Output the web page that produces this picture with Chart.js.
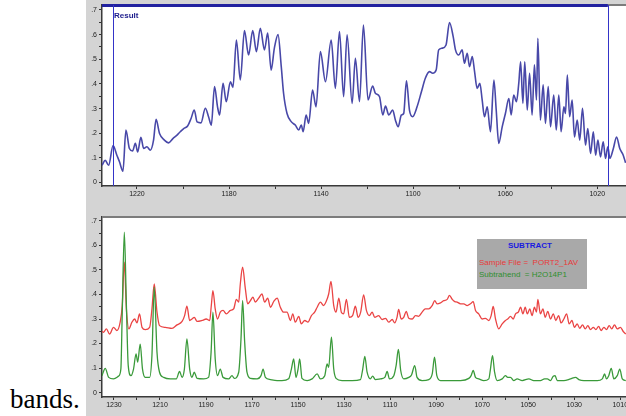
<!DOCTYPE html>
<html>
<head>
<meta charset="utf-8">
<script src="https://cdn.jsdelivr.net/npm/chart.js@4.4.1/dist/chart.umd.min.js"></script>
<style>
html,body{margin:0;padding:0;background:#fff;width:626px;height:416px;overflow:hidden;}
#bg{position:absolute;left:86px;top:0;width:540px;height:416px;background:#d4d4d4;}
#w1{position:absolute;left:86px;top:0;width:540px;height:200px;}
#w2{position:absolute;left:86px;top:210px;width:540px;height:206px;}
.bands{position:absolute;left:10px;top:386px;font-family:"Liberation Serif","Times New Roman",serif;font-size:27px;line-height:27px;color:#000;}
.result{position:absolute;left:114px;top:11px;font-family:"Liberation Sans",Arial,sans-serif;font-size:8px;font-weight:bold;color:#1c1c8c;line-height:10px;}
.legend{position:absolute;left:477px;top:239px;width:110px;height:50px;background:#a9a9a9;font-family:"Liberation Sans",Arial,sans-serif;font-size:8px;line-height:10px;}
.legend .t{position:absolute;left:0;width:106px;top:2px;text-align:center;color:#1a1ae0;font-weight:bold;}
.legend .s{position:absolute;left:2px;top:19px;color:#e83a3a;white-space:pre;}
.legend .h{position:absolute;left:2px;top:31px;color:#2f8f2f;white-space:pre;}
</style>
</head>
<body>
<div id="bg"></div>
<div id="w1"><canvas id="c1" width="540" height="200"></canvas></div>
<div id="w2"><canvas id="c2" width="540" height="206"></canvas></div>
<div class="result">Result</div>
<div class="legend"><div class="t">SUBTRACT</div><div class="s">Sample File =  PORT2_1AV</div><div class="h">Subtrahend  = H2O14P1</div></div>
<div class="bands">bands.</div>
<script>
// ---------- data (wavenumber, absorbance) ----------
const resultWn = [1235.2,1233.8,1232.3,1230.4,1228.7,1227.6,1226.1,1224.8,1223.3,1221.9,1220.7,1219.7,1218.3,1217.1,1215.7,1214.2,1212.8,1211.7,1210.2,1208.1,1206.3,1204.3,1202.6,1201.2,1199.7,1198.0,1196.5,1195.1,1193.9,1192.2,1190.3,1188.9,1187.7,1186.3,1185.0,1184.1,1182.6,1181.2,1179.4,1178.3,1176.8,1175.1,1173.3,1171.5,1169.7,1168.1,1166.4,1164.6,1163.2,1161.7,1160.3,1158.7,1157.3,1156.3,1154.8,1152.9,1151.2,1149.7,1148.6,1147.8,1146.5,1145.4,1143.7,1142.2,1140.3,1138.1,1135.6,1133.8,1132.0,1130.2,1128.7,1126.5,1125.1,1123.3,1121.6,1119.6,1117.6,1116.4,1114.6,1113.2,1112.0,1110.6,1108.9,1107.7,1106.5,1105.1,1104.1,1102.9,1101.6,1100.2,1098.3,1096.4,1094.7,1092.9,1091.5,1090.0,1088.9,1087.4,1085.7,1084.2,1082.6,1081.6,1080.2,1078.7,1077.7,1076.5,1075.5,1074.3,1073.3,1072.2,1071.0,1070.0,1069.0,1067.8,1066.4,1064.9,1063.9,1062.8,1061.3,1059.9,1058.4,1057.4,1056.3,1055.1,1054.1,1053.3,1052.3,1051.5,1050.4,1049.4,1048.3,1047.3,1046.4,1045.8,1044.7,1043.5,1042.5,1041.3,1040.3,1038.9,1037.8,1036.7,1035.7,1034.5,1033.8,1033.0,1032.0,1030.9,1029.9,1028.7,1027.6,1026.4,1025.1,1024.1,1022.9,1021.7,1020.7,1019.7,1018.6,1017.4,1016.4,1015.4,1014.5,1013.0,1011.6,1010.2,1008.7,1007.7];
const resultAbs = [0.070,0.090,0.070,0.150,0.110,0.084,0.046,0.213,0.138,0.128,0.159,0.124,0.183,0.138,0.145,0.131,0.172,0.256,0.199,0.172,0.161,0.179,0.192,0.206,0.219,0.229,0.260,0.294,0.246,0.242,0.301,0.267,0.233,0.389,0.307,0.274,0.402,0.328,0.409,0.386,0.578,0.416,0.616,0.517,0.616,0.531,0.626,0.538,0.606,0.456,0.545,0.600,0.470,0.362,0.280,0.246,0.233,0.213,0.233,0.206,0.274,0.240,0.375,0.307,0.531,0.409,0.578,0.382,0.612,0.348,0.599,0.321,0.504,0.328,0.639,0.335,0.391,0.362,0.348,0.274,0.310,0.274,0.294,0.253,0.226,0.274,0.280,0.413,0.294,0.267,0.307,0.368,0.423,0.450,0.443,0.456,0.538,0.545,0.558,0.649,0.592,0.538,0.517,0.538,0.484,0.524,0.470,0.511,0.450,0.382,0.402,0.335,0.267,0.307,0.206,0.416,0.294,0.159,0.226,0.280,0.341,0.274,0.355,0.328,0.402,0.490,0.321,0.490,0.294,0.443,0.274,0.477,0.335,0.585,0.253,0.396,0.240,0.389,0.226,0.355,0.213,0.355,0.206,0.307,0.280,0.436,0.267,0.335,0.185,0.253,0.172,0.301,0.152,0.219,0.118,0.206,0.111,0.172,0.104,0.165,0.098,0.145,0.098,0.138,0.185,0.138,0.111,0.080];

const sampleWn = [1235.2,1234.5,1233.3,1231.9,1230.2,1228.7,1227.3,1226.4,1225.5,1224.6,1223.5,1222.2,1221.0,1220.0,1218.9,1217.8,1216.4,1214.5,1213.5,1212.5,1211.3,1210.2,1207.7,1204.8,1202.6,1200.4,1199.3,1198.3,1197.1,1196.1,1195.1,1193.9,1191.7,1189.9,1188.4,1187.7,1187.0,1186.0,1185.0,1183.8,1182.6,1181.2,1179.4,1178.0,1176.8,1175.8,1175.1,1174.1,1172.9,1171.9,1170.7,1169.6,1168.6,1167.1,1165.7,1164.5,1163.2,1162.0,1160.6,1159.1,1157.7,1156.3,1154.8,1153.3,1152.3,1151.2,1149.7,1148.6,1147.1,1145.7,1144.2,1142.8,1141.7,1140.3,1138.9,1137.8,1136.7,1135.7,1134.5,1133.5,1132.3,1131.2,1130.2,1129.0,1127.7,1126.3,1125.1,1123.9,1122.8,1121.5,1120.3,1119.0,1117.8,1116.7,1115.0,1113.5,1112.0,1110.6,1109.1,1108.0,1107.0,1106.3,1105.2,1104.1,1103.0,1101.9,1100.4,1099.0,1097.6,1096.1,1094.7,1093.2,1091.7,1090.6,1089.6,1088.1,1086.7,1085.2,1084.2,1083.0,1081.9,1080.9,1079.4,1078.0,1076.5,1075.1,1073.9,1072.9,1071.5,1070.0,1068.6,1067.1,1066.1,1065.2,1064.2,1062.8,1061.3,1059.9,1058.9,1057.7,1056.5,1055.5,1054.3,1053.3,1052.3,1051.3,1050.4,1049.3,1048.3,1047.3,1046.4,1045.8,1044.7,1043.6,1042.6,1041.5,1040.3,1039.1,1038.0,1036.8,1035.7,1034.5,1033.3,1032.2,1031.0,1029.9,1028.7,1027.6,1026.4,1025.2,1024.1,1022.9,1021.7,1020.6,1019.4,1018.3,1017.1,1016.0,1014.8,1013.7,1012.5,1011.3,1009.9,1008.7,1007.6];
const sampleAbs = [0.250,0.246,0.260,0.239,0.266,0.253,0.287,0.355,0.532,0.341,0.260,0.287,0.300,0.284,0.321,0.266,0.257,0.266,0.341,0.443,0.328,0.273,0.266,0.262,0.276,0.290,0.314,0.352,0.294,0.300,0.307,0.290,0.294,0.300,0.294,0.355,0.416,0.341,0.300,0.328,0.335,0.321,0.335,0.341,0.380,0.369,0.443,0.511,0.423,0.362,0.375,0.389,0.369,0.385,0.402,0.369,0.385,0.348,0.371,0.385,0.348,0.328,0.328,0.294,0.321,0.287,0.311,0.280,0.294,0.287,0.314,0.328,0.348,0.369,0.355,0.371,0.402,0.453,0.355,0.328,0.385,0.328,0.321,0.380,0.307,0.314,0.352,0.307,0.328,0.398,0.335,0.314,0.328,0.307,0.314,0.298,0.303,0.287,0.298,0.284,0.307,0.339,0.300,0.307,0.331,0.303,0.300,0.314,0.311,0.328,0.341,0.341,0.355,0.375,0.362,0.366,0.375,0.380,0.396,0.380,0.371,0.369,0.362,0.362,0.355,0.362,0.371,0.335,0.321,0.300,0.303,0.294,0.314,0.351,0.300,0.260,0.280,0.294,0.300,0.311,0.300,0.321,0.328,0.348,0.321,0.348,0.321,0.341,0.314,0.348,0.328,0.380,0.321,0.341,0.307,0.331,0.300,0.321,0.294,0.314,0.284,0.300,0.321,0.280,0.294,0.266,0.280,0.262,0.276,0.260,0.273,0.257,0.266,0.257,0.270,0.253,0.266,0.257,0.273,0.260,0.276,0.260,0.266,0.249,0.239];

const subWn = [1235.2,1233.8,1232.3,1230.2,1228.0,1227.0,1226.4,1225.5,1224.6,1223.8,1222.6,1221.5,1220.4,1219.7,1218.6,1217.6,1216.4,1214.5,1213.5,1212.5,1211.3,1210.2,1208.4,1205.5,1202.9,1201.5,1200.4,1199.4,1198.3,1197.1,1196.1,1195.1,1193.9,1191.0,1188.9,1187.8,1187.0,1186.0,1185.0,1183.8,1182.6,1180.2,1178.7,1177.7,1175.8,1174.8,1174.1,1173.2,1172.2,1170.7,1167.8,1166.1,1165.2,1164.2,1162.0,1159.1,1157.0,1154.1,1152.9,1151.9,1150.9,1150.0,1149.3,1148.3,1146.1,1143.9,1141.7,1140.3,1138.4,1137.4,1136.7,1135.5,1134.5,1133.5,1130.9,1126.5,1122.9,1121.9,1121.0,1120.0,1118.6,1117.6,1116.4,1114.2,1112.3,1111.3,1110.3,1108.4,1107.4,1106.4,1105.4,1104.1,1101.9,1100.7,1099.3,1098.3,1096.1,1093.2,1091.7,1090.7,1089.7,1088.1,1084.5,1081.6,1079.4,1075.8,1074.8,1073.9,1072.9,1071.5,1069.3,1067.1,1066.4,1065.5,1064.6,1063.5,1061.3,1059.9,1058.9,1057.7,1056.3,1054.8,1052.6,1049.7,1047.6,1044.7,1042.9,1041.7,1040.3,1039.1,1038.3,1037.4,1034.5,1031.6,1029.4,1028.0,1025.8,1022.9,1020.0,1017.8,1016.8,1016.0,1015.0,1013.9,1012.8,1011.3,1010.2,1009.1,1007.6];
const subAbs = [0.069,0.099,0.062,0.056,0.067,0.096,0.328,0.654,0.355,0.110,0.069,0.096,0.158,0.124,0.198,0.096,0.062,0.062,0.151,0.430,0.164,0.083,0.062,0.056,0.056,0.086,0.062,0.096,0.219,0.096,0.062,0.083,0.058,0.056,0.062,0.164,0.328,0.137,0.069,0.096,0.062,0.056,0.069,0.058,0.083,0.219,0.375,0.205,0.083,0.058,0.056,0.069,0.096,0.062,0.053,0.049,0.049,0.056,0.096,0.137,0.062,0.096,0.137,0.058,0.049,0.056,0.076,0.056,0.069,0.117,0.103,0.226,0.096,0.058,0.049,0.049,0.053,0.096,0.148,0.083,0.056,0.067,0.053,0.056,0.062,0.086,0.056,0.069,0.110,0.176,0.090,0.056,0.062,0.072,0.110,0.062,0.049,0.053,0.076,0.144,0.069,0.049,0.049,0.049,0.049,0.058,0.069,0.090,0.062,0.056,0.049,0.056,0.096,0.151,0.083,0.049,0.056,0.069,0.062,0.062,0.049,0.056,0.049,0.056,0.049,0.049,0.056,0.056,0.049,0.067,0.069,0.049,0.049,0.056,0.062,0.053,0.049,0.049,0.049,0.056,0.076,0.056,0.069,0.099,0.056,0.069,0.096,0.056,0.049];

// ---------- axes ----------
const xMin = 1007.5, xMax = 1235.2;
const topXTickValues = [1220,1200,1180,1160,1140,1120,1100,1080,1060,1040,1020];
const topXTickLabels = ['1220','','1180','','1140','','1100','','1060','','1020'];
const botXTickValues = [1230,1220,1210,1200,1190,1180,1170,1160,1150,1140,1130,1120,1110,1100,1090,1080,1070,1060,1050,1040,1030,1020,1010];
const botXTickLabels = ['1230','','1210','','1190','','1170','','1150','','1130','','1110','','1090','','1070','','1050','','1030','','1010'];
const yTickValues = [0,0.05,0.1,0.15,0.2,0.25,0.3,0.35,0.4,0.45,0.5,0.55,0.6,0.65,0.7];
const yTickLabels = ['0','','.1','','.2','','.3','','.4','','.5','','.6','','.7'];
const cursorWn = [1230.3, 1015.4];

const pts = (xs, ys) => xs.map((x, i) => ({x: x, y: ys[i]}));
const tickFont = {family: '"Liberation Sans", Arial, sans-serif', size: 7};

function xScale(vals, labs, h) {
  return {
    type: 'linear', reverse: true, min: xMin, max: xMax, bounds: 'data',
    afterBuildTicks: s => { s.ticks = vals.map(v => ({value: v})); },
    afterFit: s => { s.height = h; s.paddingLeft = 0; s.paddingRight = 0; s.paddingTop = 0; s.paddingBottom = 0; },
    ticks: {autoSkip: false, maxRotation: 0, minRotation: 0, padding: 1, color: '#222', font: tickFont,
            callback: (v, i) => labs[i]},
    grid: {drawOnChartArea: false, drawTicks: true, tickLength: 3, color: '#333', lineWidth: 1},
    border: {display: true, color: '#3a3a3a', width: 1.5}
  };
}
function yScale(min, max) {
  return {
    type: 'linear', min: min, max: max, bounds: 'data',
    afterBuildTicks: s => { s.ticks = yTickValues.map(v => ({value: v})); },
    afterFit: s => { s.width = 16; s.paddingTop = 0; s.paddingBottom = 0; s.paddingLeft = 0; s.paddingRight = 0; },
    ticks: {autoSkip: false, padding: 2, color: '#222', font: tickFont, callback: (v, i) => yTickLabels[i]},
    grid: {drawOnChartArea: false, drawTicks: true, tickLength: 3, color: '#333', lineWidth: 1},
    border: {display: true, color: '#3a3a3a', width: 1.5}
  };
}

const framePlugin = {
  id: 'frame',
  beforeDraw(chart) {
    const {ctx, chartArea: a} = chart;
    ctx.save(); ctx.fillStyle = '#ffffff';
    ctx.fillRect(a.left, a.top, a.right - a.left, a.bottom - a.top);
    ctx.restore();
  },
  afterDatasetsDraw(chart, args, opts) {
    const {ctx, chartArea: a} = chart;
    ctx.save();
    ctx.fillStyle = '#7c7c7c';
    ctx.fillRect(a.left, a.top - 1, a.right - a.left, 2);
    if (opts.cursors) {
      const sx = chart.scales.x;
      const p = opts.cursors.map(v => sx.getPixelForValue(v));
      ctx.fillStyle = '#2222a0';
      ctx.fillRect(a.left, a.top - 1, Math.max(...p) - a.left, 3);
      ctx.strokeStyle = '#3434c8'; ctx.lineWidth = 1;
      p.forEach(x => { ctx.beginPath(); ctx.moveTo(Math.round(x) + 0.5, a.top); ctx.lineTo(Math.round(x) + 0.5, a.bottom); ctx.stroke(); });
    }
    ctx.restore();
  }
};

const common = {
  responsive: false, animation: false, events: [],
  plugins: {legend: {display: false}, tooltip: {enabled: false}},
  elements: {point: {radius: 0}, line: {cubicInterpolationMode: 'monotone'}}
};

new Chart(document.getElementById('c1'), {
  type: 'line',
  data: {datasets: [{label: 'Result', data: pts(resultWn, resultAbs), borderColor: '#4848a8', borderWidth: 1.6, fill: false, parsing: false}]},
  options: Object.assign({}, common, {
    layout: {padding: {top: 5, left: 0, right: 0, bottom: 0}},
    plugins: Object.assign({}, common.plugins, {frame: {cursors: cursorWn}}),
    scales: {x: xScale(topXTickValues, topXTickLabels, 14), y: yScale(-0.014, 0.72)}
  }),
  plugins: [framePlugin]
});

new Chart(document.getElementById('c2'), {
  type: 'line',
  data: {datasets: [
    {label: 'Subtrahend = H2O14P1', data: pts(subWn, subAbs), borderColor: '#3a9a3a', borderWidth: 1.3, fill: false, parsing: false},
    {label: 'Sample File = PORT2_1AV', data: pts(sampleWn, sampleAbs), borderColor: '#ea4444', borderWidth: 1.3, fill: false, parsing: false}
  ]},
  options: Object.assign({}, common, {
    layout: {padding: {top: 7, left: 0, right: 0, bottom: 0}},
    plugins: Object.assign({}, common.plugins, {frame: {}}),
    scales: {x: xScale(botXTickValues, botXTickLabels, 19), y: yScale(-0.018, 0.716)}
  }),
  plugins: [framePlugin]
});
</script>
</body>
</html>
